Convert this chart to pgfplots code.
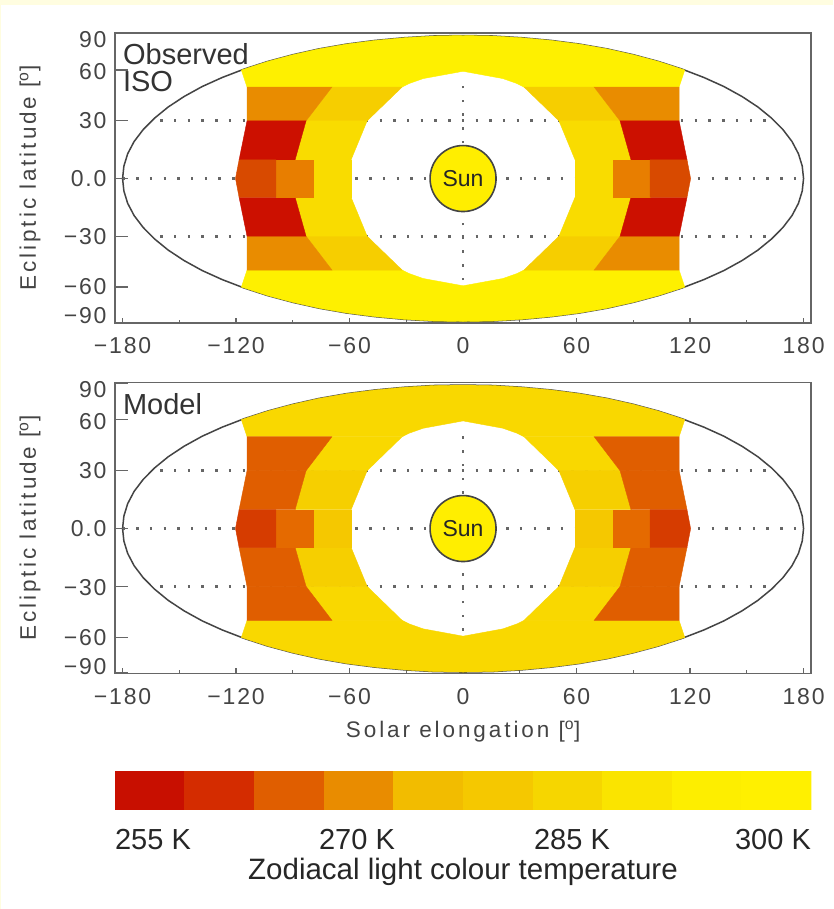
\documentclass[border=0pt]{standalone}
\usepackage{fontspec}
\setmainfont{Liberation Sans}
\newfontfamily\idl[LetterSpace=8]{Liberation Sans}
\newfontfamily\idlw[LetterSpace=13]{Liberation Sans}
\usepackage{pgfplots}
\usepackage{pgfplotstable}
\pgfplotsset{compat=1.18}
\definecolor{pagebg}{HTML}{FFFDE0}
\definecolor{frame}{HTML}{666666}
\definecolor{ink}{HTML}{444444}
\definecolor{dots}{HTML}{666666}
\definecolor{sunc}{HTML}{FFEE00}
% observed
\definecolor{oT}{HTML}{FEF000}
\definecolor{oU}{HTML}{E98C00}
\definecolor{oUr}{HTML}{F6CE00}
\definecolor{oM}{HTML}{CC1000}
\definecolor{oMr}{HTML}{F9DC00}
\definecolor{oCd}{HTML}{D84A00}
\definecolor{oCo}{HTML}{E87E00}
\definecolor{oCr}{HTML}{F9DC00}
% model
\definecolor{mT}{HTML}{F9D800}
\definecolor{mU}{HTML}{E05E00}
\definecolor{mUr}{HTML}{F9D800}
\definecolor{mM}{HTML}{E05E00}
\definecolor{mMr}{HTML}{F6CF00}
\definecolor{mCd}{HTML}{D63C00}
\definecolor{mCo}{HTML}{E56A00}
\definecolor{mCr}{HTML}{F5C800}
% colour bar
\definecolor{b1}{HTML}{C80F00}
\definecolor{b2}{HTML}{D42C00}
\definecolor{b3}{HTML}{E05E00}
\definecolor{b4}{HTML}{E98C00}
\definecolor{b5}{HTML}{F2BC00}
\definecolor{b6}{HTML}{F5C800}
\definecolor{b7}{HTML}{F6D600}
\definecolor{b8}{HTML}{FAE400}
\definecolor{b9}{HTML}{FDEE00}
\definecolor{b10}{HTML}{FFF000}
\pgfplotstableread{
x y
180 0
179.3 7.85
177.3 15.6
173.9 23.3
169.1 30.8
163.1 38.0
155.9 45
147.5 51.6
137.9 57.9
127.3 63.6
115.7 68.9
103.2 73.7
90 77.9
76.1 81.6
61.6 84.6
46.6 86.9
31.2 88.6
15.7 89.7
0 90
-15.7 89.7
-31.2 88.6
-46.6 86.9
-61.6 84.6
-76.1 81.6
-90 77.9
-103.2 73.7
-115.7 68.9
-127.3 63.6
-137.9 57.9
-147.5 51.6
-155.9 45
-163.1 38.0
-169.1 30.8
-173.9 23.3
-177.3 15.6
-179.3 7.85
-180 0
-179.3 -7.85
-177.3 -15.6
-173.9 -23.3
-169.1 -30.8
-163.1 -38.0
-155.9 -45
-147.5 -51.6
-137.9 -57.9
-127.3 -63.6
-115.7 -68.9
-103.2 -73.7
-90 -77.9
-76.1 -81.6
-61.6 -84.6
-46.6 -86.9
-31.2 -88.6
-15.7 -89.7
0 -90
15.7 -89.7
31.2 -88.6
46.6 -86.9
61.6 -84.6
76.1 -81.6
90 -77.9
103.2 -73.7
115.7 -68.9
127.3 -63.6
137.9 -57.9
147.5 -51.6
155.9 -45
163.1 -38.0
169.1 -30.8
173.9 -23.3
177.3 -15.6
179.3 -7.85
180 0
}\ellipsetable
\newcommand\poly[2]{\addplot[fill=#1,draw=#1,line width=0.4pt,mark=none] coordinates {#2} -- cycle;}
\tikzset{griddots/.style={dots,line width=2.6pt,dash pattern=on 2.4pt off 11.3pt}}
\newcommand\panelzones[8]{%
  \addplot[ink,line width=1.5pt,mark=none] table[x=x,y=y] {\ellipsetable};
  \addplot[griddots,mark=none] coordinates {(-180,0)(180,0)};
  \addplot[griddots,mark=none] coordinates {(-160,36.4)(160,36.4)};
  \addplot[griddots,mark=none] coordinates {(-160,-36.4)(160,-36.4)};
  \addplot[griddots,mark=none] coordinates {(0,-64)(0,64)};
  \poly{#1}{(-114.2,57.6)(-117.2,68.3)(-103.2,73.7)(-90,77.9)(-76.1,81.6)(-61.6,84.6)(-46.6,86.9)(-31.2,88.6)(-15.7,89.7)(0,90)(15.7,89.7)(31.2,88.6)(46.6,86.9)(61.6,84.6)(76.1,81.6)(90,77.9)(103.2,73.7)(117.2,68.3)(114.2,57.6)(32.2,57.6)(28.5,59.8)(21.1,62.9)(0,67.5)(-21.1,62.9)(-28.5,59.8)(-32.2,57.6)}
  \poly{#1}{(-114.2,-57.6)(-117.2,-68.3)(-103.2,-73.7)(-90,-77.9)(-76.1,-81.6)(-61.6,-84.6)(-46.6,-86.9)(-31.2,-88.6)(-15.7,-89.7)(0,-90)(15.7,-89.7)(31.2,-88.6)(46.6,-86.9)(61.6,-84.6)(76.1,-81.6)(90,-77.9)(103.2,-73.7)(117.2,-68.3)(114.2,-57.6)(32.2,-57.6)(28.5,-59.8)(21.1,-62.9)(0,-67.5)(-21.1,-62.9)(-28.5,-59.8)(-32.2,-57.6)}
  \poly{#3}{(-69.3,57.6)(-32.2,57.6)(-50.7,36.3)(-83,36.3)}
  \poly{#3}{(69.3,57.6)(32.2,57.6)(50.7,36.3)(83,36.3)}
  \poly{#3}{(-69.3,-57.6)(-32.2,-57.6)(-50.7,-36.3)(-83,-36.3)}
  \poly{#3}{(69.3,-57.6)(32.2,-57.6)(50.7,-36.3)(83,-36.3)}
  \poly{#5}{(-83,36.3)(-50.7,36.3)(-59.2,11.8)(-88.8,11.8)}
  \poly{#5}{(83,36.3)(50.7,36.3)(59.2,11.8)(88.8,11.8)}
  \poly{#5}{(-83,-36.3)(-50.7,-36.3)(-59.2,-11.8)(-88.8,-11.8)}
  \poly{#5}{(83,-36.3)(50.7,-36.3)(59.2,-11.8)(88.8,-11.8)}
  \poly{#8}{(-79.3,11.8)(-59.2,11.8)(-59.2,-11.8)(-79.3,-11.8)}
  \poly{#8}{(79.3,11.8)(59.2,11.8)(59.2,-11.8)(79.3,-11.8)}
  \poly{#2}{(-114.2,57.6)(-69.3,57.6)(-83,36.3)(-114.2,36.3)}
  \poly{#2}{(114.2,57.6)(69.3,57.6)(83,36.3)(114.2,36.3)}
  \poly{#2}{(-114.2,-57.6)(-69.3,-57.6)(-83,-36.3)(-114.2,-36.3)}
  \poly{#2}{(114.2,-57.6)(69.3,-57.6)(83,-36.3)(114.2,-36.3)}
  \poly{#4}{(-114.2,36.3)(-83,36.3)(-88.8,11.8)(-118.4,11.8)}
  \poly{#4}{(114.2,36.3)(83,36.3)(88.8,11.8)(118.4,11.8)}
  \poly{#4}{(-114.2,-36.3)(-83,-36.3)(-88.8,-11.8)(-118.4,-11.8)}
  \poly{#4}{(114.2,-36.3)(83,-36.3)(88.8,-11.8)(118.4,-11.8)}
  \poly{#7}{(-98.9,11.8)(-79.3,11.8)(-79.3,-11.8)(-98.9,-11.8)}
  \poly{#7}{(98.9,11.8)(79.3,11.8)(79.3,-11.8)(98.9,-11.8)}
  \poly{#6}{(-118.4,11.8)(-120.3,0)(-118.4,-11.8)(-98.9,-11.8)(-98.9,11.8)}
  \poly{#6}{(118.4,11.8)(120.3,0)(118.4,-11.8)(98.9,-11.8)(98.9,11.8)}
  \addplot[only marks,mark=*,mark size=33pt,mark options={fill=sunc,draw=ink,line width=1.6pt},
    nodes near coords={Sun},
    every node near coord/.style={anchor=center,font=\fontsize{23}{23}\selectfont,text=black!85}] coordinates {(0,0)};
}
\pgfplotsset{panel/.style={
  scale only axis,
  width=696.3pt,
  xmin=-184,xmax=184.1,ymin=-90.9,ymax=91.6,
  axis line style={frame,line width=1.7pt},
  tick align=inside,
  xtick pos=bottom,ytick pos=left,
  xtick={-180,-120,-60,0,60,120,180},
  xticklabels={−180,−120,−60,0,60,120,180},
  minor xtick={-150,-90,-30,30,90,150},
  major tick length=5pt,
  minor tick length=3pt,
  tick style={frame,line width=1.2pt},
  ytick={-86.5,-68.3,-36.8,0,36.2,67,87.2},
  yticklabels={−90,−60,−30,0.0,30,60,90},
  ytick style={draw=none},
  xticklabel style={font=\idl\fontsize{23}{23}\selectfont,text=ink,yshift=-11pt},
  yticklabel style={font=\idl\fontsize{23}{23}\selectfont,text=ink,xshift=-5pt},
  every axis y label/.style={at={(axis description cs:0,0.5)},xshift=-85pt,rotate=90,anchor=center,font=\idlw\fontsize{22.5}{22.5}\selectfont,text=ink},
  every axis x label/.style={at={(axis description cs:0.5,0)},anchor=center,yshift=-58pt,font=\idlw\fontsize{22.5}{22.5}\selectfont,text=ink},
  clip=false,
},
longticks/.style={
  scale only axis,
  width=696.3pt,
  xmin=-184,xmax=184.1,ymin=-90.9,ymax=91.6,
  axis line style={frame,line width=1.7pt},
  tick align=inside,
  xtick=\empty,ytick pos=left,
  ytick={-90.5,-68.3,-36.4,0,36.4,68.3,91.2},
  yticklabels={},
  major tick length=13pt,
  tick style={frame,line width=1.4pt},
}}
\begin{document}
\begin{tikzpicture}[x=1pt,y=1pt]
\useasboundingbox (0,0) rectangle (833,909);
\fill[pagebg] (0,0) rectangle (833,909);
\fill[white] (1,0) rectangle (833,904);
\begin{axis}[panel,at={(115pt,586pt)},anchor=south west,height=290pt,
  ylabel={Ecliptic latitude [\textsuperscript{o}]}]
\panelzones{oT}{oU}{oUr}{oM}{oMr}{oCd}{oCo}{oCr}
\node[anchor=base west,font=\fontsize{29}{29}\selectfont,text=black!80] at (axis cs:-181.6,71.6) {Observed};
\node[anchor=base west,font=\fontsize{29}{29}\selectfont,text=black!80] at (axis cs:-181.6,54.6) {ISO};
\end{axis}
\begin{axis}[longticks,at={(115pt,586pt)},anchor=south west,height=290pt]
\end{axis}
\begin{axis}[panel,at={(115pt,235.5pt)},anchor=south west,height=291pt,
  ylabel={Ecliptic latitude [\textsuperscript{o}]},
  xlabel={Solar elongation [\textsuperscript{o}]}]
\panelzones{mT}{mU}{mUr}{mM}{mMr}{mCd}{mCo}{mCr}
\node[anchor=base west,font=\fontsize{29}{29}\selectfont,text=black!80] at (axis cs:-181.6,71.6) {Model};
\end{axis}
\begin{axis}[longticks,at={(115pt,235.5pt)},anchor=south west,height=291pt]
\end{axis}
\begin{axis}[at={(115pt,99pt)},anchor=south west,scale only axis,width=696.3pt,height=39pt,
  xmin=0,xmax=10,ymin=0,ymax=1,hide axis]
\poly{b1}{(0,0)(1,0)(1,1)(0,1)}
\poly{b2}{(1,0)(2,0)(2,1)(1,1)}
\poly{b3}{(2,0)(3,0)(3,1)(2,1)}
\poly{b4}{(3,0)(4,0)(4,1)(3,1)}
\poly{b5}{(4,0)(5,0)(5,1)(4,1)}
\poly{b6}{(5,0)(6,0)(6,1)(5,1)}
\poly{b7}{(6,0)(7,0)(7,1)(6,1)}
\poly{b8}{(7,0)(8,0)(8,1)(7,1)}
\poly{b9}{(8,0)(9,0)(9,1)(8,1)}
\poly{b10}{(9,0)(10,0)(10,1)(9,1)}
\end{axis}
\node[font=\fontsize{29}{29}\selectfont,text=black!85] at (153,69) {255 K};
\node[font=\fontsize{29}{29}\selectfont,text=black!85] at (357,69) {270 K};
\node[font=\fontsize{29}{29}\selectfont,text=black!85] at (572,69) {285 K};
\node[font=\fontsize{29}{29}\selectfont,text=black!85] at (773,69) {300 K};
\node[font=\fontsize{29.5}{29.5}\selectfont,text=black!85] at (463,37) {Zodiacal light colour temperature};
\end{tikzpicture}
\end{document}
